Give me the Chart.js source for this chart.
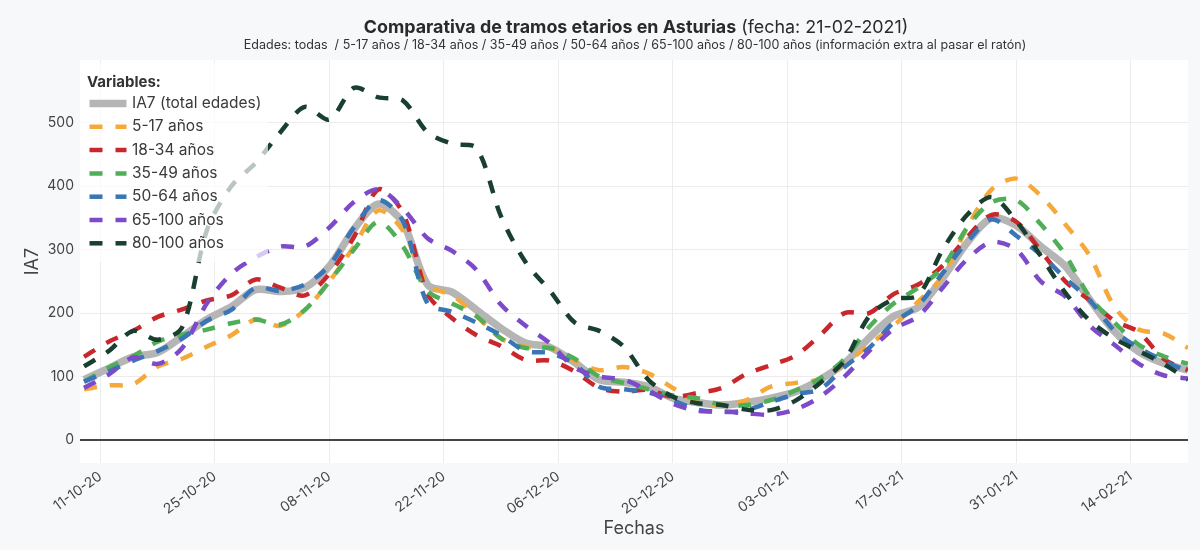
<!DOCTYPE html>
<html>
<head>
<meta charset="utf-8">
<script src="https://cdn.jsdelivr.net/npm/chart.js@4.4.0/dist/chart.umd.min.js"></script>
<style>
html,body{margin:0;padding:0;background:#f7f8fa;}
#wrap{width:1200px;height:550px;position:relative;}
</style>
</head>
<body>
<div id="wrap"><canvas id="c" width="1200" height="550"></canvas></div>
<script>
// ---- data (day index: 0 = 09-10-2020) ----
const days = [0,3,6,9,12,15,18,21,24,27,30,33,36,39,42,45,48,51,54,57,60,63,66,69,72,75,78,81,84,87,90,93,96,99,102,105,108,111,114,117,120,123,126,129,132,135];

const ia7Total = [95,113,131,138,163,190,210,237,234,240, 274,332,372,342,245,233,205,176,153,146, 122,95,91,84,66,59,55,59,66,76, 95,121,161,195,209,255,311,350,338,305, 274,221,171,139,121,110];
const age5to17 = [80,86,88,116,128,147,165,190,180,205, 250,305,362,330,245,228,195,160,147,145, 124,110,115,105,82,60,55,63,84,90, 96,120,150,180,218,258,335,395,412,385, 340,290,210,174,168,145];
const age18to34 = [131,155,172,194,206,220,228,253,240,228, 262,320,395,358,230,192,165,148,126,125, 108,82,76,79,68,74,82,104,118,133, 165,200,200,230,245,275,320,355,344,298, 250,220,188,170,128,110];
const age35to49 = [92,114,132,155,166,174,184,190,182,205, 250,300,344,305,235,215,195,160,145,145, 128,100,90,80,70,66,55,55,63,78, 97,128,178,215,240,272,335,375,378,340, 292,225,185,150,132,120];
const age50to64 = [92,108,125,140,160,188,205,240,235,245, 275,335,378,345,215,202,185,165,140,137, 120,84,80,75,62,48,44,47,60,72, 80,115,145,185,212,263,312,348,322,292, 255,220,172,145,125,108];
const age65to100 = [82,103,130,120,145,215,262,288,305,305, 335,375,395,365,318,298,268,213,180,152, 114,100,95,78,57,46,45,42,40,48, 68,100,140,175,195,240,285,312,300,250, 226,180,150,120,102,97];
const age80to100 = [116,140,172,158,178,330,400,437,485,525, 505,555,540,535,485,467,460,352,280,235, 185,172,147,95,68,58,55,48,47,62, 90,125,195,222,228,300,355,383,345,290, 232,188,160,140,120,95];

const seriesLabels = ['IA7 (total edades)','5-17 años','18-34 años','35-49 años','50-64 años','65-100 años','80-100 años'];
const tickDays = [2,16,30,44,58,72,86,100,114,128];
const tickLabels = ['11-10-20','25-10-20','08-11-20','22-11-20','06-12-20','20-12-20','03-01-21','17-01-21','31-01-21','14-02-21'];
const yTicks = [0,100,200,300,400,500];

const FONT = 'Inter, "Open Sans", sans-serif';
const seriesValues = [ia7Total, age5to17, age18to34, age35to49, age50to64, age65to100, age80to100];
const seriesColors = ['#b5b5b5','#f6a93b','#c8282c','#4fae57','#3a76b6','#7d4bc9','#183f30'];

const datasets = seriesValues.map((vals, i) => ({
  label: seriesLabels[i],
  data: days.map((d, k) => ({x: d, y: vals[k]})),
  borderColor: seriesColors[i],
  backgroundColor: seriesColors[i],
  borderWidth: i === 0 ? 7.5 : 4.5,
  borderDash: i === 0 ? [] : [13, 13],
  pointRadius: 0,
  tension: 0.3,
  fill: false,
  order: seriesValues.length - i
}));

const bgPlugin = {
  id: 'bg',
  beforeDraw(chart) {
    const {ctx, chartArea: a} = chart;
    ctx.save();
    ctx.fillStyle = '#f7f8fa';
    ctx.fillRect(0, 0, chart.width, chart.height);
    ctx.fillStyle = '#ffffff';
    ctx.fillRect(a.left, a.top, a.right - a.left, a.bottom - a.top);
    ctx.restore();
  }
};

const titlePlugin = {
  id: 'titles',
  afterDraw(chart) {
    const ctx = chart.ctx;
    ctx.save();
    ctx.textBaseline = 'alphabetic';
    ctx.textAlign = 'left';
    const boldT = 'Comparativa de tramos etarios en Asturias';
    const normT = ' (fecha: 21-02-2021)';
    ctx.font = `bold 17px ${FONT}`;
    let wb = ctx.measureText(boldT).width;
    ctx.font = `17px ${FONT}`;
    let wn = ctx.measureText(normT).width;
    const s1 = Math.min(19, 17 * 545 / (wb + wn));
    ctx.font = `bold ${s1}px ${FONT}`;
    wb = ctx.measureText(boldT).width;
    ctx.font = `${s1}px ${FONT}`;
    wn = ctx.measureText(normT).width;
    const x0 = 636 - (wb + wn) / 2;
    ctx.fillStyle = '#2a2a2a';
    ctx.font = `bold ${s1}px ${FONT}`;
    ctx.fillText(boldT, x0, 32.5);
    ctx.font = `${s1}px ${FONT}`;
    ctx.fillText(normT, x0 + wb, 32.5);
    const sub = 'Edades: todas  / 5-17 años / 18-34 años / 35-49 años / 50-64 años / 65-100 años / 80-100 años (información extra al pasar el ratón)';
    ctx.font = `12px ${FONT}`;
    const ws = ctx.measureText(sub).width;
    const s2 = Math.min(14, 12 * 783 / ws);
    ctx.font = `${s2}px ${FONT}`;
    ctx.fillStyle = '#333';
    ctx.textAlign = 'center';
    ctx.fillText(sub, 635, 48.5);
    ctx.restore();
  }
};

const legendPlugin = {
  id: 'legendBox',
  afterDatasetsDraw(chart) {
    const ctx = chart.ctx;
    const a = chart.chartArea;
    ctx.save();
    ctx.fillStyle = 'rgba(255,255,255,0.7)';
    ctx.fillRect(a.left, a.top + 3, 188, 199);
    ctx.textBaseline = 'middle';
    ctx.textAlign = 'left';
    ctx.fillStyle = '#333';
    ctx.font = `bold 15px ${FONT}`;
    ctx.fillText('Variables:', a.left + 7, 82);
    chart.data.datasets.forEach((ds, i) => {
      const y = 103.5 + i * 23.3;
      ctx.beginPath();
      ctx.strokeStyle = ds.borderColor;
      ctx.lineWidth = ds.borderWidth;
      ctx.setLineDash(ds.borderDash);
      ctx.moveTo(a.left + 9.5, y);
      ctx.lineTo(a.left + 46.5, y);
      ctx.stroke();
      ctx.setLineDash([]);
      ctx.fillStyle = '#3a3a3a';
      ctx.font = `15.5px ${FONT}`;
      ctx.fillText(ds.label, a.left + 52, y);
    });
    ctx.restore();
  }
};

new Chart(document.getElementById('c'), {
  type: 'line',
  data: { datasets },
  plugins: [bgPlugin, legendPlugin, titlePlugin],
  options: {
    responsive: false,
    animation: false,
    layout: { padding: { top: 60, right: 12, left: 0, bottom: 0 } },
    plugins: { legend: { display: false }, tooltip: { enabled: false } },
    scales: {
      x: {
        type: 'linear',
        min: -0.5,
        max: 135,
        afterBuildTicks: s => { s.ticks = tickDays.map(v => ({ value: v })); },
        afterFit: s => { s.height = 87; },
        ticks: {
          autoSkip: false,
          minRotation: 36,
          maxRotation: 36,
          padding: 5,
          color: '#444',
          font: { family: FONT, size: 14 },
          callback: v => tickLabels[tickDays.indexOf(v)]
        },
        grid: { color: '#ececec', lineWidth: 1, drawTicks: false },
        border: { display: false },
        title: { display: true, text: 'Fechas', color: '#444', font: { family: FONT, size: 18 }, padding: { top: 0, bottom: 11 } }
      },
      y: {
        min: -36.3,
        max: 599,
        afterBuildTicks: s => { s.ticks = yTicks.map(v => ({ value: v })); },
        afterFit: s => { s.width = 80; },
        ticks: { padding: 6, color: '#444', font: { family: FONT, size: 14 } },
        grid: {
          color: c => (c.tick && c.tick.value === 0) ? '#444' : '#ececec',
          lineWidth: c => (c.tick && c.tick.value === 0) ? 2 : 1,
          drawTicks: false
        },
        border: { display: false },
        title: { display: true, text: 'IA7', color: '#444', font: { family: FONT, size: 18 }, padding: { top: 22, bottom: 0 } }
      }
    }
  }
});
</script>
</body>
</html>
